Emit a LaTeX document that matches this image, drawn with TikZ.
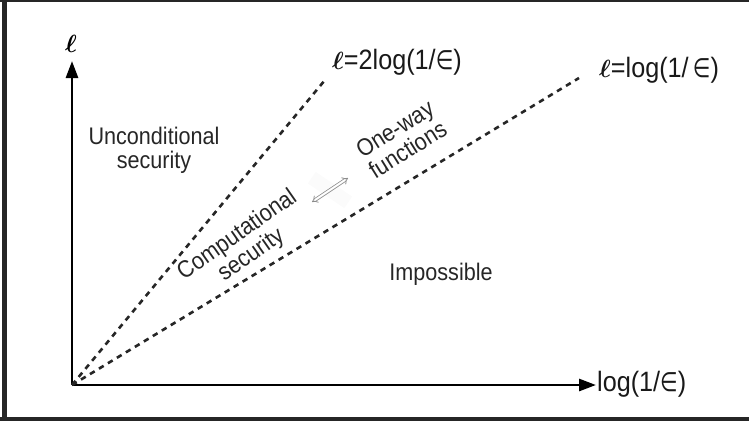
\documentclass[tikz,border=0pt]{standalone}
\usepackage{amsmath}
\usepackage{graphicx}
\usepackage{fontspec}
\setmainfont{Liberation Sans}
\newfontfamily\symfont{DejaVu Sans}
\usetikzlibrary{arrows.meta}
\newcommand{\nar}[1]{\scalebox{0.9}[1]{#1}}
\newcommand{\eps}{{\symfont\scalebox{0.8}[0.95]{∈}}}
\newcommand{\bell}{{\fontsize{37}{38}\selectfont$\boldsymbol{\ell}$}}
\begin{document}
\begin{tikzpicture}[x=1pt,y=-1pt,
  lbl/.style={font=\fontsize{24}{23}\selectfont, text=black!85, inner sep=0pt},
  eqlbl/.style={font=\fontsize{28}{30}\selectfont, text=black!90, inner sep=0pt, anchor=west},
  axis/.style={line width=2.8pt, -{Triangle[length=17pt,width=12pt]}},
  dashline/.style={line width=2.6pt, dash pattern=on 5.5pt off 5pt, black!85},
  dblarrow/.style={black!45, double=white, double distance=2pt, line width=0.8pt, {Implies}-{Implies}}]
\useasboundingbox (0,0) rectangle (749,421);
% frame
\draw[line width=5pt, black!85] (4.5,0) -- (4.5,421);
\draw[line width=2.2pt, black!85] (0,1.1) -- (749,1.1);
\draw[line width=4pt, black!85] (0,419) -- (749,419);
% axes
\coordinate (O) at (72,385);
\coordinate (ytip) at (72,61);
\coordinate (xtip) at (596,385);
\draw[axis] (O) -- (ytip);
\draw[axis] (O) -- (xtip);
\node[inner sep=0pt] (ell) at (71,44) {\fontsize{31}{32}\selectfont$\boldsymbol{\ell}$};
\node[eqlbl] (xl) at (597,384) {\nar{log(1/\eps)}};
% dashed lines
\coordinate (e1) at (325,80);
\coordinate (e2) at (579,78);
\draw[dashline] (O) -- (e1);
\draw[dashline] (O) -- (e2);
\node[eqlbl] (l1) at (332,62) {\bell\nar{=2log(1/\eps)}};
\node[eqlbl] (l2) at (599,70) {\bell\nar{=log(1/\,\eps)}};
% region labels
\node[lbl] (unc) at (154,151) {\nar{\begin{tabular}{@{}c@{}}Unconditional\\security\end{tabular}}};
\node[lbl] (imp) at (441,274) {\nar{Impossible}};
\node[lbl, rotate=35] (comp) at (245,246) {\nar{\begin{tabular}{@{}c@{}}Computational\\security\end{tabular}}};
\node[lbl, rotate=32] (owf) at (403,142) {\nar{\begin{tabular}{@{}c@{}}One-way\\functions\end{tabular}}};
\coordinate (a1) at (312,202);
\coordinate (a2) at (348,178);
\fill[black!1.5, rotate around={-34:(330,190)}] (308,183) rectangle (352,197);
\draw[dblarrow] (a1) -- (a2);
\end{tikzpicture}
\end{document}
